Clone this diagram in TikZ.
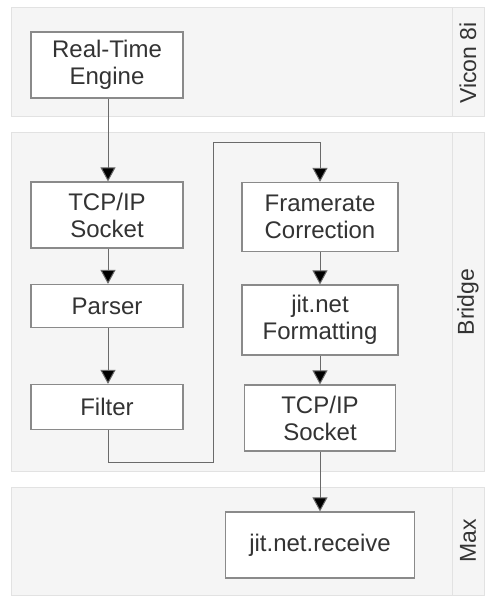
\documentclass[tikz,border=0pt]{standalone}
\usepackage{fontspec}
\setmainfont{Liberation Sans}
\usetikzlibrary{arrows.meta}
\definecolor{lanefill}{HTML}{F5F5F5}
\definecolor{laneline}{HTML}{E2E2E2}
\definecolor{boxline}{HTML}{8A8A8A}
\definecolor{txt}{HTML}{333333}
\definecolor{conn}{HTML}{6A6A6A}
\tikzset{
  lane/.style={fill=lanefill, draw=laneline, line width=1pt},
  proc/.style={draw=boxline, fill=white, line width=1.2pt, text=txt,
    font=\fontsize{24}{27}\selectfont, align=center, inner sep=0pt},
  lanelabel/.style={rotate=90, text=txt, font=\fontsize{23}{26}\selectfont},
  flow/.style={draw=conn, line width=1pt, -{Triangle[width=15pt,length=14pt,fill=black]}}
}
\begin{document}
\begin{tikzpicture}[x=1pt,y=-1pt]
\useasboundingbox (0,0) rectangle (484,596);
% lanes
\draw[lane] (11,8) rectangle (484,117);
\draw[lane] (11,133) rectangle (484,471);
\draw[lane] (11,487) rectangle (484,595);
\draw[laneline, line width=1pt] (452,8) -- (452,117);
\draw[laneline, line width=1pt] (452,133) -- (452,471);
\draw[laneline, line width=1pt] (452,487) -- (452,595);
\node[lanelabel] (lv) at (468,63) {Vicon 8i};
\node[lanelabel] (lb) at (468,302) {Bridge};
\node[lanelabel] (lm) at (468,541) {Max};
% boxes
\node[proc, minimum width=152pt, minimum height=66pt] (rte) at (107,65) {Real-Time\\Engine};
\node[proc, minimum width=152pt, minimum height=66pt] (tcp1) at (107,215) {TCP/IP\\Socket};
\node[proc, minimum width=152pt, minimum height=43pt] (parser) at (107,306) {Parser};
\node[proc, minimum width=152pt, minimum height=45pt] (filter) at (107,407) {Filter};
\node[proc, minimum width=156pt, minimum height=69pt] (frc) at (320,217) {Framerate\\Correction};
\node[proc, minimum width=156pt, minimum height=70pt] (jfmt) at (320,320) {jit.net\\Formatting};
\node[proc, minimum width=151pt, minimum height=66pt] (tcp2) at (320,418) {TCP/IP\\Socket};
\node[proc, minimum width=189pt, minimum height=66pt] (recv) at (320,545) {jit.net.receive};
% connectors
\coordinate (c1) at (108,462);
\coordinate (c2) at (213,462);
\coordinate (c3) at (213,143);
\coordinate (c4) at (320,143);
\draw[flow] (rte.south -| 108,0) -- (tcp1.north -| 108,0);
\draw[flow] (tcp1.south -| 108,0) -- (parser.north -| 108,0);
\draw[flow] (parser.south -| 108,0) -- (filter.north -| 108,0);
\draw[flow] (filter.south -| c1) -- (c1) -- (c2) -- (c3) -- (c4) -- (frc.north);
\draw[flow] (frc) -- (jfmt);
\draw[flow] (jfmt) -- (tcp2);
\draw[flow] (tcp2) -- (recv);
\end{tikzpicture}
\end{document}
